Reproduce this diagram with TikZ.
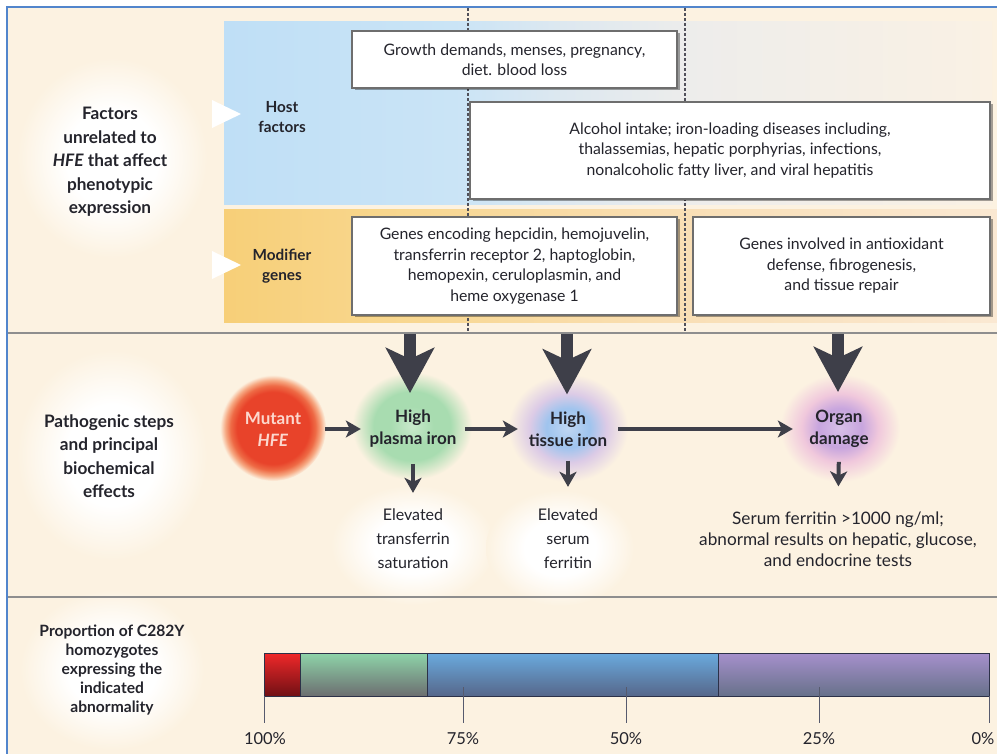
\documentclass[tikz,border=0pt]{standalone}
\usepackage{fontspec}
\setmainfont{Lato}
\usetikzlibrary{arrows.meta,shadows}
\definecolor{bgc}{HTML}{FCF2E1}
\definecolor{framec}{HTML}{5285CC}
\definecolor{ink}{HTML}{24242C}
\definecolor{arrowc}{HTML}{3E3F49}
\definecolor{sepc}{HTML}{8E8E8E}
\definecolor{dashc}{HTML}{50505A}
\definecolor{boxedge}{HTML}{6E6E6E}
\definecolor{bA}{HTML}{BFDFF6}
\definecolor{bB}{HTML}{CAE4F6}
\definecolor{bC}{HTML}{DDE8F0}
\definecolor{bD}{HTML}{EEEDEB}
\definecolor{bE}{HTML}{FAF1E4}
\definecolor{oA}{HTML}{F7CF78}
\definecolor{oB}{HTML}{F8D68C}
\definecolor{oC}{HTML}{F9DFB6}
\definecolor{oD}{HTML}{FAE8D2}
\definecolor{gG}{HTML}{A8DCB0}
\definecolor{gGc}{HTML}{C9E9CC}
\definecolor{gB}{HTML}{9FC4EE}
\definecolor{gBc}{HTML}{BFD6F2}
\definecolor{gBe}{HTML}{DCCBE6}
\definecolor{gP}{HTML}{C7A5DE}
\definecolor{gPc}{HTML}{D8C0E8}
\definecolor{gPe}{HTML}{F0C8DC}
\definecolor{rA}{HTML}{E8432A}
\definecolor{rB}{HTML}{EE6A45}
\definecolor{rC}{HTML}{F6A882}
\definecolor{mutc}{HTML}{FCD8CE}
\definecolor{redT}{HTML}{F0282A}
\definecolor{redB}{HTML}{701014}
\definecolor{grnT}{HTML}{8ED4A9}
\definecolor{grnB}{HTML}{6C6E70}
\definecolor{bluT}{HTML}{6AAADE}
\definecolor{bluB}{HTML}{56678A}
\definecolor{purT}{HTML}{A690CC}
\definecolor{purB}{HTML}{67718A}
\definecolor{barline}{HTML}{2C3148}
\pgfdeclarehorizontalshading{bluereg}{100bp}{color(0bp)=(bA); color(25bp)=(bA); color(40bp)=(bB); color(47bp)=(bC); color(56bp)=(bD); color(75bp)=(bE); color(100bp)=(bE)}
\pgfdeclarehorizontalshading{orangereg}{100bp}{color(0bp)=(oA); color(25bp)=(oA); color(35bp)=(oB); color(55bp)=(oC); color(75bp)=(oD); color(100bp)=(oD)}
\pgfdeclareradialshading{wglow}{\pgfpoint{0bp}{0bp}}{color(0bp)=(white); color(12bp)=(white); color(25bp)=(bgc); color(50bp)=(bgc)}
\pgfdeclareradialshading{greenglow}{\pgfpoint{0bp}{0bp}}{color(0bp)=(gGc); color(9bp)=(gG); color(16bp)=(gG); color(25bp)=(bgc); color(50bp)=(bgc)}
\pgfdeclareradialshading{blueglow}{\pgfpoint{0bp}{0bp}}{color(0bp)=(gBc); color(9bp)=(gB); color(16bp)=(gBe); color(25bp)=(bgc); color(50bp)=(bgc)}
\pgfdeclareradialshading{purpleglow}{\pgfpoint{0bp}{0bp}}{color(0bp)=(gPc); color(9bp)=(gP); color(16bp)=(gPe); color(25bp)=(bgc); color(50bp)=(bgc)}
\pgfdeclareradialshading{redball}{\pgfpoint{0bp}{0bp}}{color(0bp)=(rA); color(17bp)=(rA); color(20bp)=(rB); color(22.5bp)=(rC); color(25bp)=(bgc); color(50bp)=(bgc)}
\newcommand{\myboxfont}{\fontsize{15.8}{20.5}\selectfont}
\newcommand{\mylabfont}{\bfseries\fontsize{17.2}{23.5}\selectfont}
\newcommand{\mypropfont}{\bfseries\fontsize{15.6}{19}\selectfont}
\newcommand{\myhostfont}{\bfseries\fontsize{15.3}{20.5}\selectfont}
\newcommand{\mymidfont}{\bfseries\fontsize{17}{22}\selectfont}
\newcommand{\myefffont}{\fontsize{16}{24}\selectfont}
\newcommand{\myserfont}{\fontsize{17.2}{21}\selectfont}
\newcommand{\mypctfont}{\fontsize{16.5}{18}\selectfont}
\begin{document}
\begin{tikzpicture}[x=1pt,y=-1pt,
  textbox/.style={draw=boxedge, line width=1.3pt, fill=white, inner sep=0pt, align=center,
    text=ink, font=\myboxfont,
    drop shadow={shadow xshift=2.5pt, shadow yshift=-2.5pt, fill=black, opacity=0.35}},
  sidelabel/.style={align=center, text=ink, font=\mylabfont, inner sep=0pt},
  hostlabel/.style={align=center, text=ink, font=\myhostfont, inner sep=0pt},
  stage/.style={align=center, text=ink, font=\mymidfont, inner sep=0pt},
  effect/.style={align=center, text=ink, font=\myefffont, inner sep=0pt},
  pct/.style={text=ink, font=\mypctfont, inner sep=0pt},
  dashline/.style={draw=dashc, line width=1.6pt, dash pattern=on 3pt off 2pt},
  sepline/.style={draw=sepc, line width=2pt},
  flow/.style={draw=arrowc, line width=4pt, -{Stealth[length=15pt,width=17pt,inset=4pt]}},
  bigarr/.style={draw=arrowc, line width=12pt, -{Stealth[length=45pt,width=48pt,inset=11pt]}},
  tickline/.style={draw=barline!80, line width=1pt},
  barseg/.style={draw=barline, line width=1pt}]
\useasboundingbox (0,0) rectangle (997,754);
\clip (0,0) rectangle (997,754);
\fill[white] (0,0) rectangle (997,754);
\fill[bgc] (8,8) rectangle (997,754);

% white glows behind the row labels and effects
\path[shading=wglow] (112,158) ellipse [x radius=95, y radius=100];
\path[shading=wglow] (112,455) ellipse [x radius=95, y radius=105];
\path[shading=wglow] (112,670) ellipse [x radius=92, y radius=80];
\path[shading=wglow] (413,545) ellipse [x radius=82, y radius=60];
\path[shading=wglow] (560,548) ellipse [x radius=74, y radius=58];

% background regions
\path[shading=bluereg] (224,22) rectangle (992,205);
\path[shading=orangereg] (224,210) rectangle (997,323);

% pointers
\fill[white] (212,100) -- (241,114) -- (212,128) -- cycle;
\fill[white] (212,251) -- (241,265) -- (212,279) -- cycle;

% dashed dividers
\draw[dashline] (468,8) -- (468,333);
\draw[dashline] (685,8) -- (685,333);

% separators and frame
\draw[sepline] (8,333) -- (997,333);
\draw[sepline] (8,597) -- (997,597);
\draw[framec, line width=2.2pt] (7,754) -- (7,7) -- (997,7);

% boxes
\node[textbox, minimum width=325, minimum height=57] (b1) at (514.5,59.5)
  {Growth demands, menses, pregnancy,\\diet. blood loss};
\node[textbox, minimum width=520, minimum height=97] (b2) at (730,150.5)
  {Alcohol intake; iron-loading diseases including,\\thalassemias, hepatic porphyrias, infections,\\nonalcoholic fatty liver, and viral hepatitis};
\node[textbox, minimum width=325, minimum height=98] (b3) at (514.5,266)
  {Genes encoding hepcidin, hemojuvelin,\\transferrin receptor 2, haptoglobin,\\hemopexin, ceruloplasmin, and\\heme oxygenase 1};
\node[textbox, minimum width=297, minimum height=98] (b4) at (841.5,266)
  {Genes involved in antioxidant\\defense, fibrogenesis,\\and tissue repair};

% labels
\node[hostlabel] (host) at (282,117) {Host\\factors};
\node[hostlabel] (mod) at (282,266) {Modifier\\genes};
\node[sidelabel] (fac) at (110,162) {Factors\\unrelated to\\\textit{HFE} that affect\\phenotypic\\expression};
\node[sidelabel] (path) at (109,456) {Pathogenic steps\\and principal\\biochemical\\effects};
\node[sidelabel, font=\mypropfont] (prop) at (112,670) {Proportion of C282Y\\homozygotes\\expressing the\\indicated\\abnormality};

% glows of the pathogenic steps
\path[shading=greenglow] (412,426) ellipse [x radius=60, y radius=54];
\path[shading=blueglow] (568,428) ellipse [x radius=60, y radius=54];
\path[shading=purpleglow] (840,428) ellipse [x radius=60, y radius=54];
\path[shading=redball] (273,428) circle [radius=53];

% step nodes
\node[circle, minimum size=88, inner sep=0pt, align=center, font=\mymidfont, text=mutc] (mut) at (273,429) {Mutant\\\textit{HFE}};
\node[stage, minimum width=104] (plasma) at (413,429) {High\\plasma iron};
\node[stage, minimum width=100] (tissue) at (568,429) {High\\tissue iron};
\node[stage, minimum width=92] (organ) at (839,429) {Organ\\damage};
\node[effect] (e1) at (413,539) {Elevated\\transferrin\\saturation};
\node[effect] (e2) at (568,539) {Elevated\\serum\\ferritin};
\node[effect, font=\myserfont] (e3) at (838,539) {Serum ferritin >1000 ng/ml;\\abnormal results on hepatic, glucose,\\and endocrine tests};

% big arrows from the modifying factors
\coordinate (s1) at (410,334);
\coordinate (s2) at (567,334);
\coordinate (s3) at (838,334);
\draw[bigarr, shorten >=17pt] (s1) -- (s1 |- plasma.north);
\draw[bigarr, shorten >=17pt] (s2) -- (s2 |- tissue.north);
\draw[bigarr, shorten >=18pt] (s3) -- (s3 |- organ.north);

% flow arrows
\draw[flow, shorten <=8pt] (mut.east) -- (plasma.west);
\draw[flow] (plasma.east) -- (tissue.west);
\draw[flow] (tissue.east) -- (organ.west);
\draw[flow, shorten <=16pt, shorten >=16pt] (plasma.south) -- (e1.north);
\draw[flow, shorten <=14pt, shorten >=22pt] (tissue.south) -- (e2.north);
\draw[flow, shorten <=14pt, shorten >=25pt] (organ.south) -- (e3.north);

% proportion bar
\path[top color=redT, middle color=redT, bottom color=redB] (264,653) rectangle (300,696);
\path[top color=grnT, middle color=grnT, bottom color=grnB] (300,653) rectangle (427,696);
\path[top color=bluT, middle color=bluT, bottom color=bluB] (427,653) rectangle (718,696);
\path[top color=purT, middle color=purT, bottom color=purB] (718,653) rectangle (989,696);
\draw[barseg] (264,653) rectangle (989,696);
\draw[barseg] (300,653) -- (300,696);
\draw[barseg] (427,653) -- (427,696);
\draw[barseg] (718,653) -- (718,696);

\node[pct] (l100) at (265,739) {100\%};
\node[pct] (l75) at (463,739) {75\%};
\node[pct] (l50) at (626,739) {50\%};
\node[pct] (l25) at (819,739) {25\%};
\node[pct] (l0) at (983,739) {0\%};
\coordinate (t100) at (264,696);
\coordinate (t75) at (463,687);
\coordinate (t50) at (626,687);
\coordinate (t25) at (819,687);
\coordinate (t0) at (989,696);
\draw[tickline, shorten >=10pt] (t100) -- (t100 |- l100.north);
\draw[tickline, shorten >=10pt] (t75) -- (t75 |- l75.north);
\draw[tickline, shorten >=10pt] (t50) -- (t50 |- l50.north);
\draw[tickline, shorten >=10pt] (t25) -- (t25 |- l25.north);
\draw[tickline, shorten >=10pt] (t0) -- (t0 |- l0.north);
\end{tikzpicture}
\end{document}
